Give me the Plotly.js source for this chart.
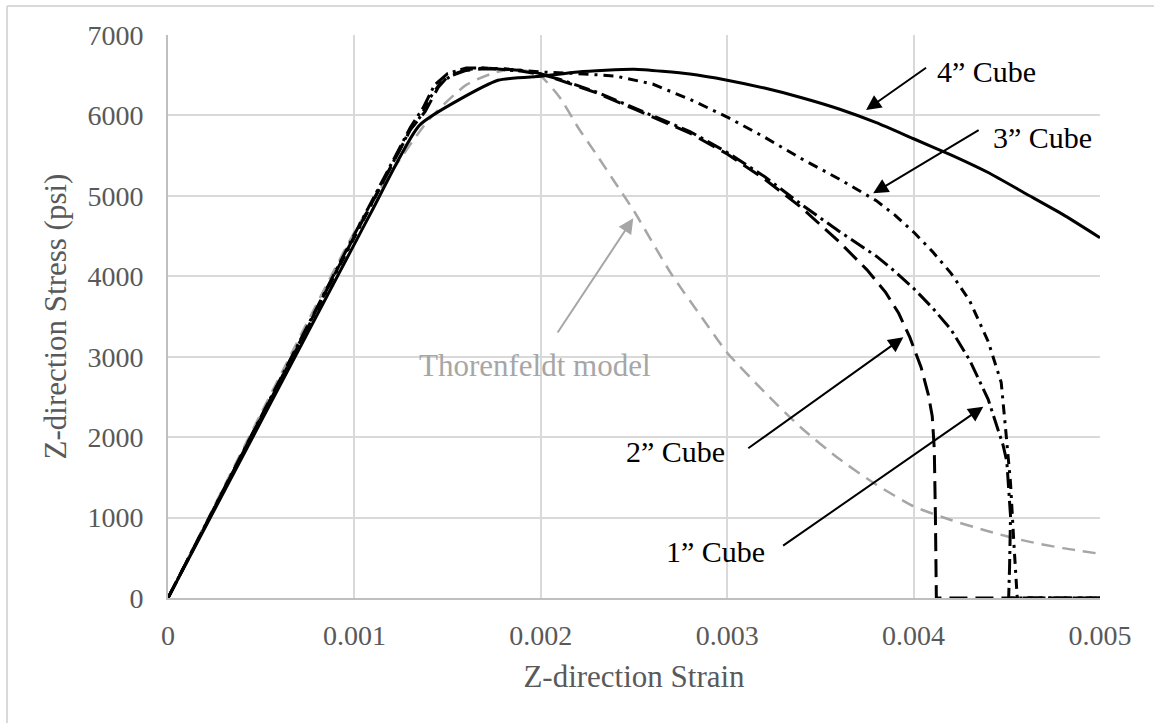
<!DOCTYPE html>
<html>
<head>
<meta charset="utf-8">
<script src="https://cdn.plot.ly/plotly-3.0.1.min.js"></script>
<style>
  html, body { margin: 0; padding: 0; background: #ffffff; }
  #chart { width: 1154px; height: 723px; }
</style>
</head>
<body>
<div id="chart"></div>
<script>
// ---------------- data ----------------
const cube4Strain = [0, 0.0005, 0.001, 0.0011, 0.00135, 0.00177, 0.002, 0.0022, 0.0025, 0.0028, 0.003, 0.0032, 0.0034, 0.0036, 0.0038, 0.004, 0.0042, 0.0044, 0.0046, 0.0048, 0.005];
const cube4Stress = [0, 2200, 4400, 4840, 5880, 6437, 6487, 6540, 6575, 6515, 6438, 6340, 6220, 6080, 5910, 5710, 5510, 5290, 5030, 4770, 4480];

const cube3Strain = [0, 0.0005, 0.001, 0.0013, 0.00136, 0.0014, 0.00146, 0.00153, 0.0016, 0.0017, 0.0018, 0.0019, 0.002, 0.0022, 0.0024, 0.0026, 0.0028, 0.003, 0.0032, 0.0034, 0.0036, 0.0038, 0.0039, 0.004, 0.0041, 0.0042, 0.0043, 0.0044, 0.00447, 0.004493, 0.00452, 0.004538, 0.004556, 0.0047, 0.005];
const cube3Stress = [0, 2240, 4480, 5830, 6000, 6200, 6400, 6510, 6570, 6590, 6580, 6560, 6540, 6520, 6490, 6390, 6200, 5980, 5730, 5460, 5210, 4940, 4760, 4550, 4310, 4040, 3700, 3190, 2680, 2115, 1430, 680, 0, 0, 0];

const cube2Strain = [0, 0.0005, 0.001, 0.0013, 0.00138, 0.00145, 0.0015, 0.0016, 0.0017, 0.0018, 0.0019, 0.002, 0.0021, 0.0023, 0.0025, 0.0028, 0.003, 0.0032, 0.0034, 0.0036, 0.00375, 0.00385, 0.00392, 0.00398, 0.00404, 0.00408, 0.0041, 0.004111, 0.004117, 0.004122, 0.0045, 0.005];
const cube2Stress = [0, 2250, 4500, 5820, 6050, 6350, 6480, 6560, 6580, 6575, 6560, 6520, 6440, 6280, 6080, 5780, 5520, 5210, 4850, 4430, 4080, 3800, 3540, 3240, 2870, 2520, 2260, 1850, 1020, 0, 0, 0];

const cube1Strain = [0, 0.0005, 0.001, 0.0013, 0.00137, 0.00143, 0.0015, 0.0016, 0.0017, 0.0018, 0.0019, 0.002, 0.0021, 0.0023, 0.0025, 0.0028, 0.003, 0.0032, 0.0034, 0.0036, 0.0038, 0.0039, 0.004, 0.0041, 0.0042, 0.0043, 0.0044, 0.00448, 0.0045, 0.00452, 0.004515, 0.00451, 0.0047, 0.005];
const cube1Stress = [0, 2260, 4520, 5850, 6100, 6380, 6520, 6590, 6590, 6570, 6550, 6510, 6450, 6290, 6090, 5800, 5540, 5240, 4890, 4560, 4250, 4060, 3850, 3610, 3340, 2960, 2470, 1900, 1700, 1020, 400, 0, 0, 0];

const thorStrain = [0, 0.0005, 0.001, 0.0012, 0.0014, 0.0016, 0.00175, 0.00185, 0.00195, 0.002, 0.0021, 0.0022, 0.0023, 0.0024, 0.0025, 0.0027, 0.0029, 0.003, 0.0032, 0.0034, 0.0036, 0.0038, 0.004, 0.0042, 0.0044, 0.0046, 0.0048, 0.005];
const thorStress = [0, 2300, 4550, 5300, 5950, 6380, 6530, 6575, 6540, 6490, 6230, 5850, 5510, 5160, 4810, 4030, 3370, 3050, 2560, 2110, 1730, 1410, 1140, 970, 830, 710, 620, 550];

const xTickVals = [0, 0.001, 0.002, 0.003, 0.004, 0.005];
const xTickText = ['0', '0.001', '0.002', '0.003', '0.004', '0.005'];
const yTickVals = [0, 1000, 2000, 3000, 4000, 5000, 6000, 7000];
const yTickText = ['0', '1000', '2000', '3000', '4000', '5000', '6000', '7000'];

const labelTexts = ['4\u201D Cube', '3\u201D Cube', '2\u201D Cube', '1\u201D Cube', 'Thorenfeldt model'];
const xTitle = 'Z-direction Strain';
const yTitle = 'Z-direction Stress (psi)';

// ---------------- styling / placement ----------------
const SERIF = 'Liberation Serif, Times New Roman, serif';
const GRAY_TXT = '#595959';

const traces = [
  { x: thorStrain, y: thorStress, name: 'Thorenfeldt', mode: 'lines',
    line: { color: '#a6a6a6', width: 2.5, dash: '13px,8px', shape: 'spline', smoothing: 0.6 } },
  { x: cube2Strain, y: cube2Stress, name: '2in', mode: 'lines',
    line: { color: '#000000', width: 3, dash: '18px,8px' } },
  { x: cube1Strain, y: cube1Stress, name: '1in', mode: 'lines',
    line: { color: '#000000', width: 3, dash: '16px,5px,3px,5px' } },
  { x: cube3Strain, y: cube3Stress, name: '3in', mode: 'lines',
    line: { color: '#000000', width: 3, dash: '10px,6px,3px,6px' } },
  { x: cube4Strain, y: cube4Stress, name: '4in', mode: 'lines',
    line: { color: '#000000', width: 3, dash: 'solid', shape: 'spline', smoothing: 0.5 } }
];

// label text centres (data units)
const labelPos = [
  [0.00439, 6548], [0.004694, 5720], [0.00272, 1819], [0.002935, 576], [0.001969, 2897]
];
// arrows: [tipX, tipY, tailX, tailY]
const arrowPos = [
  [0.003745, 6067, 0.004075, 6606],
  [0.003783, 5032, 0.004357, 5828],
  [0.003945, 3241, 0.003105, 1849],
  [0.004374, 2379, 0.003292, 638],
  [0.002496, 4721, 0.002085, 3282]
];
const labelColors = ['#000000', '#000000', '#000000', '#000000', '#a6a6a6'];
const labelSizes = [30, 30, 30, 30, 31];

const annotations = [];
for (let i = 0; i < labelTexts.length; i++) {
  annotations.push({
    x: labelPos[i][0], y: labelPos[i][1], xref: 'x', yref: 'y',
    text: labelTexts[i], showarrow: false,
    xanchor: 'center', yanchor: 'middle',
    font: { family: SERIF, size: labelSizes[i], color: labelColors[i] }
  });
  annotations.push({
    x: arrowPos[i][0], y: arrowPos[i][1], xref: 'x', yref: 'y',
    ax: arrowPos[i][2], ay: arrowPos[i][3], axref: 'x', ayref: 'y',
    text: '', showarrow: true, arrowhead: 2, arrowsize: 1.5, arrowwidth: 2,
    arrowcolor: labelColors[i], standoff: 0, startstandoff: 0
  });
}

const shapes = [
  { type: 'line', xref: 'paper', yref: 'paper', x0: -0.1727, x1: -0.1727, y0: -0.25, y1: 1.0515,
    line: { color: '#d9d9d9', width: 2 } },
  { type: 'line', xref: 'paper', yref: 'paper', x0: -0.1727, x1: 1.1, y0: 1.0515, y1: 1.0515,
    line: { color: '#d9d9d9', width: 2 } }
];

const layout = {
  width: 1154, height: 723,
  margin: { l: 168, r: 54, t: 35, b: 125, pad: 0 },
  paper_bgcolor: '#ffffff', plot_bgcolor: '#ffffff',
  showlegend: false,
  font: { family: SERIF, color: GRAY_TXT },
  xaxis: {
    range: [0, 0.005], tickvals: xTickVals, ticktext: xTickText,
    showgrid: true, gridcolor: '#d9d9d9', gridwidth: 2,
    showline: true, linecolor: '#bfbfbf', linewidth: 2,
    zeroline: false, ticks: '', ticklabelstandoff: 11,
    tickfont: { family: SERIF, size: 28, color: GRAY_TXT },
    title: { text: xTitle, font: { family: SERIF, size: 31, color: GRAY_TXT }, standoff: 16 },
    automargin: false, fixedrange: true
  },
  yaxis: {
    range: [0, 7000], tickvals: yTickVals, ticktext: yTickText,
    showgrid: true, gridcolor: '#d9d9d9', gridwidth: 2,
    showline: true, linecolor: '#bfbfbf', linewidth: 2,
    zeroline: false, ticks: '', ticklabelstandoff: 17,
    tickfont: { family: SERIF, size: 28, color: GRAY_TXT },
    title: { text: yTitle, font: { family: SERIF, size: 31, color: GRAY_TXT }, standoff: 12 },
    automargin: false, fixedrange: true
  },
  annotations: annotations,
  shapes: shapes
};

Plotly.newPlot('chart', traces, layout, { staticPlot: true, displayModeBar: false });
</script>
</body>
</html>
